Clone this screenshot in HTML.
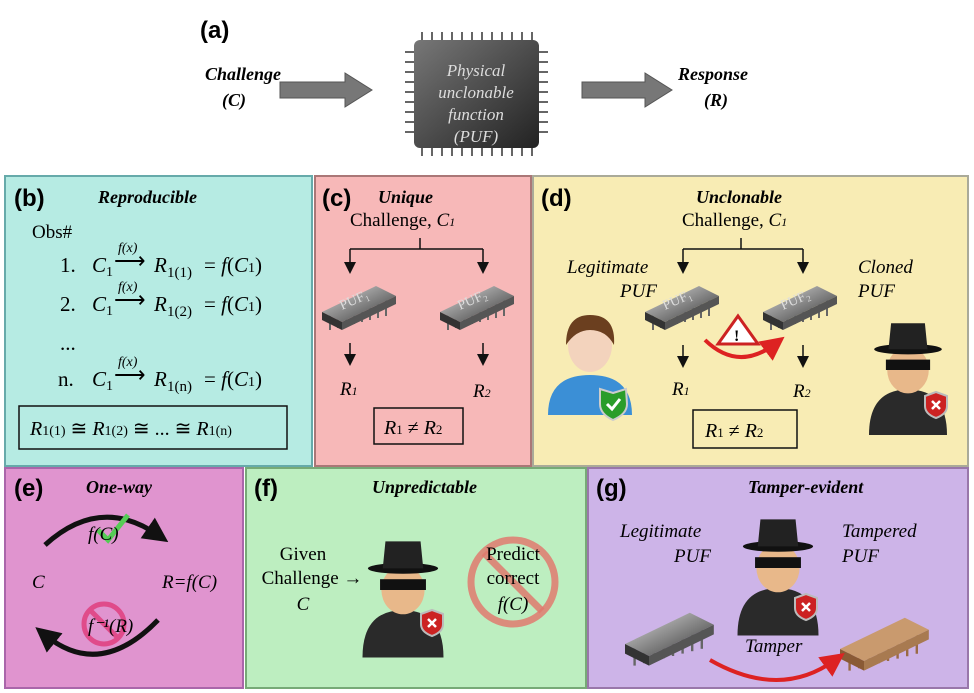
<!DOCTYPE html>
<html><head><meta charset="utf-8"><style>
body{margin:0;background:#fff}
svg{display:block}
text{font-family:"Liberation Serif",serif}
.b{font-family:"Liberation Sans",sans-serif;font-weight:bold;font-size:24px}
.t{font-weight:bold;font-style:italic;font-size:18px}
.i{font-style:italic}
</style></head><body>
<svg width="974" height="693" viewBox="0 0 974 693" xmlns="http://www.w3.org/2000/svg">
<defs>
<marker id="ar" markerWidth="8" markerHeight="8" refX="4" refY="4" orient="auto"><path d="M0,0 L8,4 L0,8z" fill="#111"/></marker>
<marker id="rr" markerWidth="6" markerHeight="6" refX="3" refY="3" orient="auto"><path d="M0,0 L6,3 L0,6z" fill="#d22"/></marker>
<marker id="kr" markerWidth="5" markerHeight="5" refX="2.5" refY="2.5" orient="auto"><path d="M0,0 L5,2.5 L0,5z" fill="#111"/></marker>
<linearGradient id="ch" x1="0" y1="0" x2="1" y2="1"><stop offset="0" stop-color="#ddd"/><stop offset="0.5" stop-color="#888"/><stop offset="1" stop-color="#333"/></linearGradient>
<linearGradient id="cpu" x1="0" y1="0" x2="1" y2="1"><stop offset="0" stop-color="#777"/><stop offset="1" stop-color="#222"/></linearGradient>
<g id="chip"><g stroke="#666" stroke-width="2"><line x1="8" y1="22" x2="8" y2="38"/><line x1="16" y1="20" x2="16" y2="36"/><line x1="24" y1="18" x2="24" y2="34"/><line x1="32" y1="16" x2="32" y2="32"/><line x1="40" y1="14" x2="40" y2="30"/><line x1="48" y1="12" x2="48" y2="28"/><line x1="56" y1="10" x2="56" y2="26"/><line x1="64" y1="8" x2="64" y2="24"/></g><path d="M0,20 L54,-6 L74,4 L20,30z" fill="url(#ch)"/><path d="M0,20 L20,30 L20,38 L0,28z" fill="#333"/><path d="M20,30 L74,4 L74,12 L20,38z" fill="#555"/></g>
<g id="spy"><path d="M-30,50 Q-30,15 0,15 Q30,15 30,50z" fill="#2a2a2a"/><ellipse cx="0" cy="0" rx="16" ry="18" fill="#e8b88a"/><rect x="-17" y="-8" width="34" height="8" fill="#111"/><ellipse cx="0" cy="-16" rx="26" ry="4" fill="#111"/><path d="M-15,-16 L-13,-36 L13,-36 L15,-16z" fill="#222"/></g>
<g id="shx"><path d="M0,-12 L11,-8 L11,2 Q11,10 0,14 Q-11,10 -11,2 L-11,-8z" fill="#c22" stroke="#bbb" stroke-width="2"/><path d="M-4,-3 L4,5 M4,-3 L-4,5" stroke="#fff" stroke-width="2.5"/></g>
</defs>

<!-- (a) -->
<text x="200" y="38" class="b">(a)</text>
<text x="205" y="80" class="t">Challenge</text>
<text x="222" y="106" class="t">(C)</text>
<path d="M280,82 L345,82 L345,73 L372,90 L345,107 L345,98 L280,98z" fill="#777" stroke="#555"/>
<g stroke="#666" stroke-width="2">
<path d="M422,32 V42 M432,32 V42 M442,32 V42 M452,32 V42 M462,32 V42 M472,32 V42 M482,32 V42 M492,32 V42 M502,32 V42 M512,32 V42 M522,32 V42 M532,32 V42"/>
<path d="M422,146 V156 M432,146 V156 M442,146 V156 M452,146 V156 M462,146 V156 M472,146 V156 M482,146 V156 M492,146 V156 M502,146 V156 M512,146 V156 M522,146 V156 M532,146 V156"/>
<path d="M405,52 H415 M405,62 H415 M405,72 H415 M405,82 H415 M405,92 H415 M405,102 H415 M405,112 H415 M405,122 H415 M405,132 H415"/>
<path d="M538,52 H548 M538,62 H548 M538,72 H548 M538,82 H548 M538,92 H548 M538,102 H548 M538,112 H548 M538,122 H548 M538,132 H548"/>
</g>
<rect x="414" y="40" width="125" height="108" rx="6" fill="url(#cpu)"/>
<g fill="#ddd" font-style="italic" font-size="17" text-anchor="middle"><text x="476" y="76">Physical</text><text x="476" y="98">unclonable</text><text x="476" y="120">function</text><text x="476" y="142">(PUF)</text></g>
<path d="M582,82 L645,82 L645,73 L672,90 L645,107 L645,98 L582,98z" fill="#777" stroke="#555"/>
<text x="678" y="80" class="t">Response</text>
<text x="704" y="106" class="t">(R)</text>

<!-- panels -->
<rect x="5" y="176" width="307" height="290" fill="#b6ebe3" stroke="#6aa" stroke-width="2"/>
<rect x="315" y="176" width="216" height="290" fill="#f7b8b8" stroke="#a77" stroke-width="2"/>
<rect x="533" y="176" width="435" height="290" fill="#f8ecb4" stroke="#aa9" stroke-width="2"/>
<rect x="5" y="468" width="238" height="220" fill="#e094cf" stroke="#a6a" stroke-width="2"/>
<rect x="246" y="468" width="340" height="220" fill="#bdeec0" stroke="#7a7" stroke-width="2"/>
<rect x="588" y="468" width="380" height="220" fill="#cdb4e8" stroke="#97a" stroke-width="2"/>

<!-- (b) -->
<text x="14" y="206" class="b">(b)</text>
<text x="98" y="203" class="t">Reproducible</text>
<g font-size="21">
<text x="32" y="238" font-size="19">Obs#</text>
<text x="60" y="272">1.</text><text x="60" y="311">2.</text><text x="60" y="350">...</text><text x="58" y="386">n.</text>
<g><text x="92" y="272" class="i">C</text><text x="106" y="276" font-size="14">1</text><text x="118" y="252" font-size="14" class="i">f(x)</text><text x="114" y="268" font-size="22">⟶</text><text x="154" y="272" class="i">R</text><text x="167" y="277" font-size="15">1(1)</text><text x="204" y="272">= <tspan class="i">f</tspan>(<tspan class="i">C</tspan><tspan font-size="14">1</tspan>)</text></g>
<g><text x="92" y="311" class="i">C</text><text x="106" y="315" font-size="14">1</text><text x="118" y="291" font-size="14" class="i">f(x)</text><text x="114" y="307" font-size="22">⟶</text><text x="154" y="311" class="i">R</text><text x="167" y="316" font-size="15">1(2)</text><text x="204" y="311">= <tspan class="i">f</tspan>(<tspan class="i">C</tspan><tspan font-size="14">1</tspan>)</text></g>
<g><text x="92" y="386" class="i">C</text><text x="106" y="390" font-size="14">1</text><text x="118" y="366" font-size="14" class="i">f(x)</text><text x="114" y="382" font-size="22">⟶</text><text x="154" y="386" class="i">R</text><text x="167" y="391" font-size="15">1(n)</text><text x="204" y="386">= <tspan class="i">f</tspan>(<tspan class="i">C</tspan><tspan font-size="14">1</tspan>)</text></g>
</g>
<rect x="19" y="406" width="268" height="43" fill="none" stroke="#111" stroke-width="1.5"/>
<text x="30" y="435" font-size="20"><tspan class="i">R</tspan><tspan font-size="14">1(1)</tspan> ≅ <tspan class="i">R</tspan><tspan font-size="14">1(2)</tspan> ≅  ... ≅ <tspan class="i">R</tspan><tspan font-size="14">1(n)</tspan></text>

<!-- (c) -->
<text x="322" y="206" class="b">(c)</text>
<text x="378" y="203" class="t">Unique</text>
<text x="350" y="226" font-size="19">Challenge, <tspan class="i">C</tspan><tspan class="i" font-size="12">1</tspan></text>
<path d="M420,238 V249 M350,249 H483" stroke="#111" stroke-width="1.5" fill="none"/>
<path d="M350,249 V268" stroke="#111" stroke-width="1.5" marker-end="url(#ar)"/>
<path d="M483,249 V268" stroke="#111" stroke-width="1.5" marker-end="url(#ar)"/>
<use href="#chip" x="322" y="292"/><use href="#chip" x="440" y="292"/>
<text x="342" y="310" fill="#ddd" font-size="14" transform="rotate(-24 342 310)">PUF₁</text>
<text x="460" y="310" fill="#ddd" font-size="14" transform="rotate(-24 460 310)">PUF₂</text>
<path d="M350,343 V360" stroke="#111" stroke-width="1.5" marker-end="url(#ar)"/>
<path d="M483,343 V360" stroke="#111" stroke-width="1.5" marker-end="url(#ar)"/>
<text x="340" y="395" font-size="19" class="i">R<tspan font-size="12">1</tspan></text>
<text x="473" y="397" font-size="19" class="i">R<tspan font-size="12">2</tspan></text>
<rect x="374" y="408" width="89" height="36" fill="none" stroke="#111" stroke-width="1.5"/>
<text x="384" y="434" font-size="20"><tspan class="i">R</tspan><tspan font-size="13">1</tspan> ≠ <tspan class="i">R</tspan><tspan font-size="13">2</tspan></text>

<!-- (d) -->
<text x="541" y="206" class="b">(d)</text>
<text x="696" y="203" class="t">Unclonable</text>
<text x="682" y="226" font-size="19">Challenge, <tspan class="i">C</tspan><tspan class="i" font-size="12">1</tspan></text>
<path d="M741,238 V249 M683,249 H803" stroke="#111" stroke-width="1.5" fill="none"/>
<path d="M683,249 V268" stroke="#111" stroke-width="1.5" marker-end="url(#ar)"/>
<path d="M803,249 V268" stroke="#111" stroke-width="1.5" marker-end="url(#ar)"/>
<text x="567" y="273" font-size="19" class="i">Legitimate</text><text x="620" y="297" font-size="19" class="i">PUF</text>
<text x="858" y="273" font-size="19" class="i">Cloned</text><text x="858" y="297" font-size="19" class="i">PUF</text>
<use href="#chip" x="645" y="292"/><use href="#chip" x="763" y="292"/>
<text x="665" y="310" fill="#ddd" font-size="14" transform="rotate(-24 665 310)">PUF₁</text>
<text x="783" y="310" fill="#ddd" font-size="14" transform="rotate(-24 783 310)">PUF₂</text>
<path d="M705,340 Q738,372 775,344" stroke="#d22" stroke-width="4" fill="none" marker-end="url(#rr)"/>
<path d="M738,316 L758,344 L718,344z" fill="#fff" stroke="#c22" stroke-width="3"/><text x="734" y="341" font-size="16" font-weight="bold">!</text>
<path d="M683,345 V362" stroke="#111" stroke-width="1.5" marker-end="url(#ar)"/><path d="M803,345 V362" stroke="#111" stroke-width="1.5" marker-end="url(#ar)"/>
<text x="672" y="395" font-size="19" class="i">R<tspan font-size="12">1</tspan></text>
<text x="793" y="397" font-size="19" class="i">R<tspan font-size="12">2</tspan></text>
<rect x="693" y="410" width="104" height="38" fill="none" stroke="#111" stroke-width="1.5"/>
<text x="705" y="437" font-size="20"><tspan class="i">R</tspan><tspan font-size="13">1</tspan> ≠ <tspan class="i">R</tspan><tspan font-size="13">2</tspan></text>
<!-- user -->
<path d="M548,415 Q548,375 590,375 Q632,375 632,415z" fill="#3b8fd6"/>
<ellipse cx="590" cy="345" rx="22" ry="27" fill="#f3d3bd"/>
<path d="M566,345 Q566,315 590,315 Q616,315 614,345 Q606,330 590,330 Q576,330 566,345z" fill="#6b3f1f"/>
<path d="M613,393 L626,389 L627,404 Q627,414 613,420 Q600,414 600,404 L600,389z" fill="#2a9d2a" stroke="#ccc" stroke-width="2"/>
<path d="M607,404 L612,409 L620,399" stroke="#fff" stroke-width="3" fill="none"/>
<g transform="translate(908,370) scale(1.3)"><use href="#spy"/></g><use href="#shx" x="936" y="404"/>

<!-- (e) -->
<text x="14" y="496" class="b">(e)</text>
<text x="86" y="493" class="t">One-way</text>
<path d="M45,545 Q100,495 158,535" stroke="#111" stroke-width="5" fill="none" marker-end="url(#kr)"/>
<path d="M98,530 L108,540 L128,515" stroke="#5c5" stroke-width="5" fill="none"/>
<text x="88" y="540" font-size="19" class="i">f(C)</text>
<text x="32" y="588" font-size="19" class="i">C</text>
<text x="162" y="588" font-size="19" class="i">R=f(C)</text>
<circle cx="104" cy="624" r="20" fill="none" stroke="#e04b8a" stroke-width="5"/>
<line x1="90" y1="610" x2="118" y2="638" stroke="#e04b8a" stroke-width="5"/>
<text x="88" y="632" font-size="19" class="i">f⁻¹(R)</text>
<path d="M158,620 Q100,680 45,635" stroke="#111" stroke-width="5" fill="none" marker-end="url(#kr)"/>

<!-- (f) -->
<text x="254" y="496" class="b">(f)</text>
<text x="372" y="493" class="t">Unpredictable</text>
<g font-size="19" text-anchor="middle"><text x="303" y="560">Given</text><text x="312" y="584">Challenge →</text><text x="303" y="610" class="i">C</text></g>
<g transform="translate(403,590) scale(1.35)"><use href="#spy"/></g><use href="#shx" x="432" y="622"/>
<circle cx="513" cy="582" r="42" fill="none" stroke="#e07a6e" stroke-width="7" opacity="0.85"/>
<line x1="484" y1="553" x2="542" y2="611" stroke="#e07a6e" stroke-width="7" opacity="0.85"/>
<g font-size="19" text-anchor="middle"><text x="513" y="560">Predict</text><text x="513" y="584">correct</text><text x="513" y="610" class="i">f(C)</text></g>

<!-- (g) -->
<text x="596" y="496" class="b">(g)</text>
<text x="748" y="493" class="t">Tamper-evident</text>
<text x="620" y="537" font-size="19" class="i">Legitimate</text><text x="674" y="562" font-size="19" class="i">PUF</text>
<text x="842" y="537" font-size="19" class="i">Tampered</text><text x="842" y="562" font-size="19" class="i">PUF</text>
<g transform="translate(778,568) scale(1.35)"><use href="#spy"/></g><use href="#shx" x="806" y="606"/>
<g transform="translate(625,620) scale(1.2)"><use href="#chip"/></g>
<g transform="translate(840,625) scale(1.2)"><g stroke="#9a6a45" stroke-width="2"><path d="M8,22V38M16,20V36M24,18V34M32,16V32M40,14V30M48,12V28M56,10V26M64,8V24"/></g><path d="M0,20 L54,-6 L74,4 L20,30z" fill="#c99a6e"/><path d="M0,20 L20,30 L20,38 L0,28z" fill="#8a5a35"/><path d="M20,30 L74,4 L74,12 L20,38z" fill="#a87a50"/></g>
<path d="M710,660 Q780,700 835,660" stroke="#d22" stroke-width="4" fill="none" marker-end="url(#rr)"/>
<text x="745" y="652" font-size="19" class="i">Tamper</text>
</svg>
</body></html>
